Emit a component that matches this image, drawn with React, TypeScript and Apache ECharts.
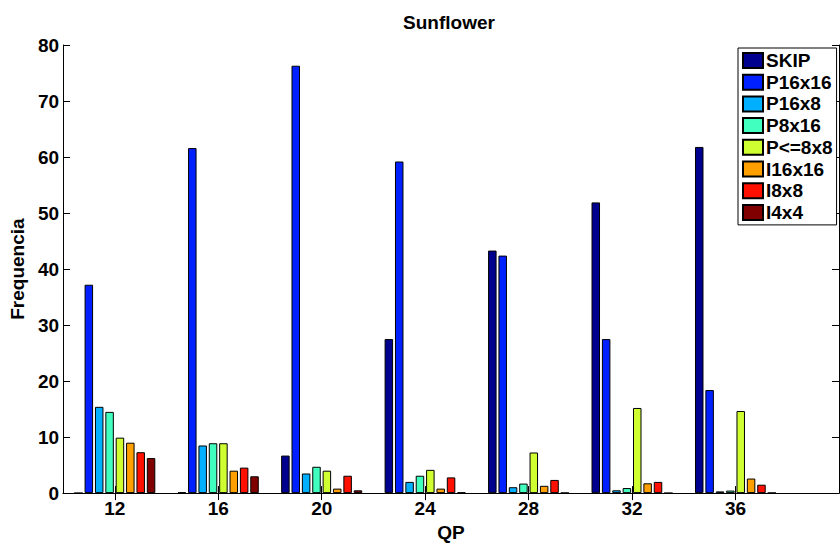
import React, { useEffect, useRef } from "react";
import * as echarts from "echarts";

const qp = [12, 16, 20, 24, 28, 32, 36];
const seriesNames = ["SKIP", "P16x16", "P16x8", "P8x16", "P<=8x8", "I16x16", "I8x8", "I4x4"];
const colors = ["#00008F", "#0020FF", "#00B0FF", "#40FFBF", "#CFFF30", "#FFA000", "#FF1000", "#800000"];

const skip = [0, 0.15, 6.7, 27.5, 43.3, 51.9, 61.8];
const p16x16 = [37.2, 61.6, 76.3, 59.2, 42.4, 27.5, 18.4];
const p16x8 = [15.4, 8.5, 3.5, 2.0, 1.05, 0.5, 0.3];
const p8x16 = [14.5, 8.9, 4.7, 3.1, 1.7, 0.9, 0.45];
const p8x8 = [9.9, 8.9, 4.0, 4.15, 7.25, 15.2, 14.65];
const i16x16 = [9.0, 4.0, 0.8, 0.8, 1.3, 1.75, 2.6];
const i8x8 = [7.3, 4.55, 3.1, 2.8, 2.35, 2.0, 1.5];
const i4x4 = [6.25, 3.0, 0.5, 0.12, 0.05, 0, 0.05];

const allValues = [skip, p16x16, p16x8, p8x16, p8x8, i16x16, i8x8, i4x4];
const yTicks = [0, 10, 20, 30, 40, 50, 60, 70, 80];

const FONT = "'Liberation Sans', Arial, Helvetica, sans-serif";

export default function App() {
  const ref = useRef<HTMLDivElement>(null);
  useEffect(() => {
    if (!ref.current) return;
    const chart = echarts.init(ref.current, undefined, { renderer: "svg" });
    const textStyle = { fontFamily: FONT, fontWeight: "bold" as const, fontSize: 19, color: "#000" };
    const axisLine = { show: true, lineStyle: { color: "#000", width: 1 } };
    chart.setOption({
      animation: false,
      backgroundColor: "#fff",
      grid: { left: 59.5, top: 45, right: 1, bottom: 45, containLabel: false },
      graphic: [
        {
          type: "text",
          x: 449,
          y: 22,
          style: { text: "Sunflower", textAlign: "center", textVerticalAlign: "middle", font: `bold 19px ${FONT}`, fill: "#000" },
        },
      ],
      legend: {
        orient: "vertical",
        left: 738,
        top: 48,
        itemWidth: 20,
        itemHeight: 15,
        itemGap: 2.7,
        padding: [3, 4, 3, 4],
        borderColor: "#000",
        borderWidth: 1,
        backgroundColor: "#fff",
        borderRadius: 0,
        textStyle: { ...textStyle, padding: [0, 0, 0, -2] },
        data: seriesNames.map((n) => ({ name: n, icon: "rect" })),
      },
      xAxis: [
        {
          type: "value",
          min: 10,
          max: 40,
          position: "bottom",
          name: "QP",
          nameLocation: "middle",
          nameGap: 22,
          nameTextStyle: textStyle,
          axisLine,
          splitLine: { show: false },
          axisTick: { show: true, inside: true, length: 7, customValues: qp, lineStyle: { color: "#000" } },
          axisLabel: { ...textStyle, margin: 6, customValues: qp },
        },
        {
          type: "value",
          min: 10,
          max: 40,
          position: "top",
          axisLine,
          splitLine: { show: false },
          axisTick: { show: true, inside: true, length: 7, customValues: qp, lineStyle: { color: "#000" } },
          axisLabel: { show: false, customValues: qp },
        },
      ],
      yAxis: [
        {
          type: "value",
          min: 0,
          max: 80,
          interval: 10,
          position: "left",
          name: "Frequencia",
          nameLocation: "middle",
          nameGap: 27,
          nameTextStyle: textStyle,
          axisLine,
          splitLine: { show: false },
          axisTick: { show: true, inside: true, length: 7, lineStyle: { color: "#000" } },
          axisLabel: { ...textStyle, margin: 4, customValues: yTicks },
        },
        {
          type: "value",
          min: 0,
          max: 80,
          interval: 10,
          position: "right",
          axisLine,
          splitLine: { show: false },
          axisTick: { show: true, inside: true, length: 7, lineStyle: { color: "#000" } },
          axisLabel: { show: false },
        },
      ],
      series: seriesNames.map((name, si) => ({
        name,
        type: "bar",
        xAxisIndex: 0,
        yAxisIndex: 0,
        barWidth: 8.5,
        barGap: "22%",
        itemStyle: { color: colors[si], borderColor: "#000", borderWidth: 1 },
        emphasis: { disabled: true },
        data: allValues[si].map((v, i) => [qp[i], v]),
      })),
    });
    return () => chart.dispose();
  }, []);
  return <div ref={ref} style={{ position: "fixed", left: 0, top: 0, width: 840, height: 547 }} />;
}
